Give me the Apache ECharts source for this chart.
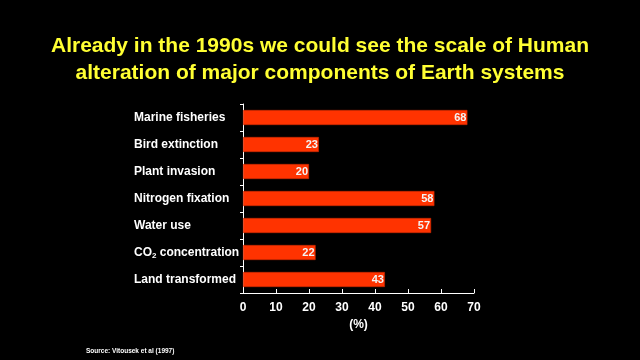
<!DOCTYPE html>
<html><head><meta charset="utf-8">
<script src="https://cdn.jsdelivr.net/npm/echarts@6/dist/echarts.min.js"></script>
<style>html,body{margin:0;padding:0;background:#000;}#c{width:640px;height:360px;}</style>
</head><body><div id="c"></div>
<script>
const categories = ["Marine fisheries","Bird extinction","Plant invasion","Nitrogen fixation","Water use","CO2 concentration","Land transformed"];
const values = [68,23,20,58,57,22,43];
const xTicks = [0,10,20,30,40,50,60,70];
const titleLines = ["Already in the 1990s we could see the scale of Human","alteration of major components of Earth systems"];
const sourceText = "Source: Vitousek et al (1997)";

const chart = echarts.init(document.getElementById('c'));
const font = '"Liberation Sans", Arial, sans-serif';
chart.setOption({
  backgroundColor: '#000',
  animation: false,
  graphic: [
    {type: 'text', x: 320, y: 46, style: {text: titleLines[0], fill: '#ffff33', font: 'bold 21px ' + font, textAlign: 'center', textVerticalAlign: 'middle'}},
    {type: 'text', x: 320, y: 73, style: {text: titleLines[1], fill: '#ffff33', font: 'bold 21px ' + font, textAlign: 'center', textVerticalAlign: 'middle'}},
    {type: 'text', x: 86, y: 351, style: {text: sourceText, fill: '#fff', font: 'bold 6.5px ' + font, textVerticalAlign: 'middle'}}
  ],
  grid: {left: 243, right: 166, top: 104, bottom: 67},
  xAxis: {
    type: 'value', min: 0, max: 70, interval: 10,
    name: '(%)', nameLocation: 'middle', nameGap: 26,
    nameTextStyle: {color: '#fff', fontSize: 12, fontWeight: 'bold', fontFamily: font},
    axisLine: {show: true, lineStyle: {color: '#fff', width: 1}},
    axisTick: {show: true, inside: true, length: 4, lineStyle: {color: '#fff'}},
    axisLabel: {color: '#fff', fontSize: 12, fontWeight: 'bold', fontFamily: font, margin: 9,
      formatter: v => xTicks.includes(v) ? String(v) : ''},
    splitLine: {show: false}
  },
  yAxis: {
    type: 'category', inverse: true, data: categories,
    axisLine: {show: true, lineStyle: {color: '#fff', width: 1}},
    axisTick: {show: true, length: 3, lineStyle: {color: '#fff'}},
    axisLabel: {
      color: '#fff', fontSize: 12, fontWeight: 'bold', fontFamily: font, align: 'left', margin: 109,
      formatter: v => v === 'CO2 concentration' ? 'CO{sub|2} concentration' : v,
      rich: {sub: {fontSize: 8, fontWeight: 'bold', color: '#fff', fontFamily: font, verticalAlign: 'bottom', padding: [7,0,0,0]}}
    }
  },
  series: [{
    type: 'bar', data: values, barWidth: 15,
    itemStyle: {color: '#ff3300', borderColor: '#c82800', borderWidth: 0.6},
    label: {show: true, position: 'insideRight', distance: 1, color: '#f4f4f4', fontSize: 11, fontWeight: 'bold', fontFamily: font}
  }]
});
</script></body></html>
